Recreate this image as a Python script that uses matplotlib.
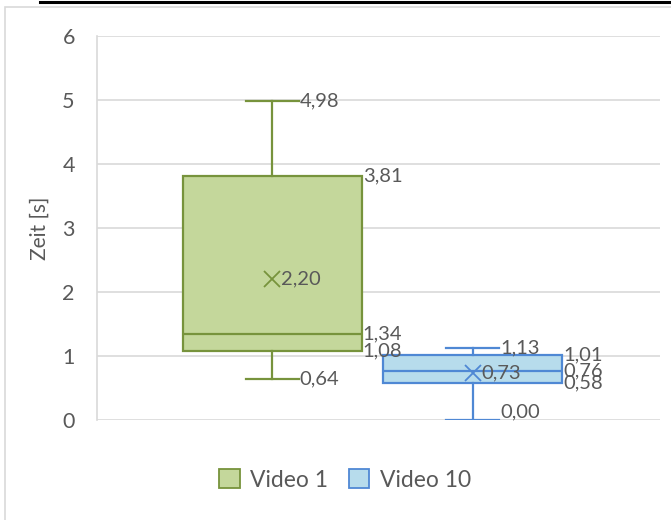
import matplotlib
matplotlib.use("Agg")
import matplotlib.pyplot as plt
from matplotlib.patches import Patch, Rectangle
from matplotlib.lines import Line2D

plt.rcParams["font.family"] = ["Lato", "DejaVu Sans"]

# data
series = ["Video 1", "Video 10"]
whis_lo = [0.64, 0.00]
q1 = [1.08, 0.58]
median = [1.34, 0.76]
q3 = [3.81, 1.01]
whis_hi = [4.98, 1.13]
mean = [2.20, 0.73]
y_ticks = [0, 1, 2, 3, 4, 5, 6]

fills = ["#C4D79B", "#B7DCEC"]
edges = ["#77933C", "#4F88D4"]
text_col = "#595959"
grid_col = "#D9D9D9"

W, H = 671, 520
fig = plt.figure(figsize=(W / 100, H / 100), dpi=100)
ax = fig.add_axes([97 / W, 1 - 420 / H, (660 - 97) / W, (420 - 36) / H])

positions = [0.311, 0.667]
width = 0.318

for i in range(2):
    stats = [{
        "whislo": whis_lo[i], "q1": q1[i], "med": median[i], "q3": q3[i],
        "whishi": whis_hi[i], "mean": mean[i], "fliers": [],
    }]
    ax.bxp(stats, positions=[positions[i]], widths=width, capwidths=0.094,
           patch_artist=True, showmeans=True, manage_ticks=False,
           boxprops=dict(facecolor=fills[i], edgecolor=edges[i], linewidth=1.6),
           medianprops=dict(color=edges[i], linewidth=1.6),
           whiskerprops=dict(color=edges[i], linewidth=1.6),
           capprops=dict(color=edges[i], linewidth=1.6),
           meanprops=dict(marker="x", markeredgecolor=edges[i], markersize=12,
                          markeredgewidth=1.3))

fs = 14.5
def fmt(v):
    return f"{v:.2f}".replace(".", ",")

for i in range(2):
    c = positions[i]
    cap_r = c + 0.047
    box_r = c + width / 2
    ax.text(cap_r + 0.002, whis_hi[i], fmt(whis_hi[i]), va="center", ha="left",
            fontsize=fs, color=text_col)
    ax.text(box_r + 0.002, q3[i], fmt(q3[i]), va="center", ha="left",
            fontsize=fs, color=text_col)
    ax.text(box_r + 0.002, median[i], fmt(median[i]), va="center", ha="left",
            fontsize=fs, color=text_col)
    ax.text(box_r + 0.002, q1[i], fmt(q1[i]), va="center", ha="left",
            fontsize=fs, color=text_col)
    ax.text(c + 0.016, mean[i], fmt(mean[i]), va="center", ha="left",
            fontsize=fs, color=text_col)
    lo_va = "bottom" if whis_lo[i] == 0 else "center"
    ax.text(cap_r + 0.002, whis_lo[i], fmt(whis_lo[i]), va=lo_va, ha="left",
            fontsize=fs, color=text_col)

ax.set_xlim(0, 1)
ax.set_ylim(0, 6)
ax.set_yticks(y_ticks)
ax.set_yticklabels([str(t) for t in y_ticks], fontsize=15.5, color=text_col)
ax.set_xticks([])
ax.tick_params(axis="y", length=0, pad=16)
ax.grid(axis="y", color=grid_col, linewidth=1.2)
ax.set_axisbelow(True)
for s in ["top", "right", "bottom"]:
    ax.spines[s].set_visible(False)
ax.spines["left"].set_color(grid_col)
ax.spines["left"].set_linewidth(1.2)
ax.set_ylabel("Zeit [s]", fontsize=15, color=text_col, labelpad=9)

handles = [Patch(facecolor=fills[i], edgecolor=edges[i], linewidth=1.3, label=series[i])
           for i in range(2)]
fig.legend(handles=handles, loc="center", bbox_to_anchor=(345 / W, 1 - 480 / H),
           ncol=2, frameon=False, fontsize=16.5, handlelength=0.9, handleheight=0.9,
           handletextpad=0.45, columnspacing=0.9, labelcolor=text_col)

# chart border and top rule
fig.add_artist(Rectangle((5 / W, -0.01), 1.0, 1 - 7 / H + 0.01, transform=fig.transFigure,
                         fill=False, edgecolor="#D9D9D9", linewidth=1.2))
fig.add_artist(Line2D([40 / W, 1], [1 - 2 / H, 1 - 2 / H], transform=fig.transFigure,
                      color="black", linewidth=2.2))

fig.savefig("out.png", dpi=100)
